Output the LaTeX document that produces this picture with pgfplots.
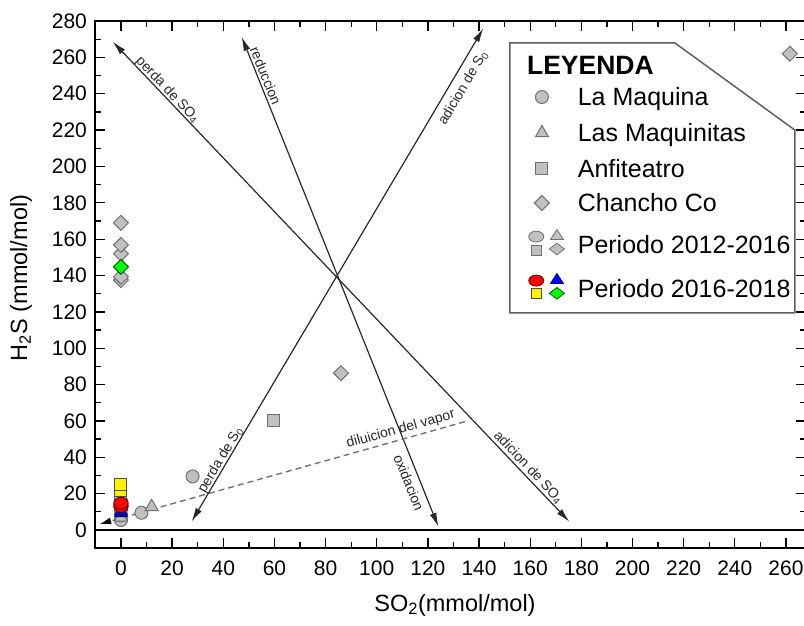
\documentclass[border=0pt]{standalone}
\usepackage{pgfplots}
\pgfplotsset{compat=1.18}
\usepackage{fontspec}
\setmainfont{Liberation Sans}
\usetikzlibrary{arrows.meta}
\definecolor{mfill}{RGB}{192,192,192}
\definecolor{medge}{RGB}{112,112,112}
\definecolor{arr}{RGB}{40,40,40}
\definecolor{frm}{RGB}{95,95,95}
\pgfplotsset{
  mk/.style={only marks, legend image code/.code={\draw[##1] plot coordinates {(0pt,0pt)};}},
  gry/.style={mark options={fill=mfill, draw=medge, line width=1pt}},
}
\begin{document}
\begin{tikzpicture}
\begin{axis}[
  at={(95.4pt,76.8pt)}, anchor=south west,
  scale only axis, width=711pt, height=527.2pt,
  xmin=-10, xmax=268, ymin=-10, ymax=280,
  xtick={0,20,...,260}, ytick={0,20,...,280},
  minor x tick num=1, minor y tick num=1,
  major tick length=10pt, minor tick length=6pt,
  every tick/.style={black, line width=1.3pt},
  axis line style={black, line width=2pt},
  tick label style={font=\fontsize{21}{21}\selectfont},
  xticklabel style={yshift=-9pt},
  yticklabel style={xshift=-5pt},
  /pgf/number format/assume math mode=true,
  xlabel={SO\textsubscript{2}(mmol/mol)},
  ylabel={H\textsubscript{2}S (mmol/mol)},
  label style={font=\fontsize{23.5}{23.5}\selectfont},
  xlabel style={at={(axis description cs:0.5058,-0.1077)}, anchor=center},
  ylabel style={at={(axis description cs:-0.1046,0.5125)}, anchor=center, rotate=0},
  legend cell align=left,
  legend style={at={(0.6089,0.8900)}, anchor=north west, draw=none, fill=none,
    inner xsep=0pt, inner ysep=0pt, outer sep=0pt, row sep=0pt, column sep=13pt,
    font=\fontsize{25}{25}\selectfont,
    nodes={inner sep=0pt, text height=27pt, text depth=9pt}},
]
% zero line
\addplot[black, line width=2pt, no marks, forget plot] coordinates {(-10,0)(268,0)};

% legend frame
\draw[frm, line width=1.5pt, fill=white] (axis cs:152.1,267.9) -- (axis cs:216.6,267.9) -- (axis cs:263.5,220) -- (axis cs:263.5,119.4) -- (axis cs:152.1,119.4) -- cycle;
\node[anchor=west, inner sep=0pt, font=\bfseries\fontsize{26.5}{26.5}\selectfont] at (axis cs:158.7,255.8) {LEYENDA};

% arrows
\addplot[arr, line width=1.2pt, no marks, forget plot, {Latex[length=14pt,width=7pt]}-{Latex[length=14pt,width=7pt]}] coordinates {(-3.2,268.6)(175.3,4.6)};
\addplot[arr, line width=1.2pt, no marks, forget plot, {Latex[length=14pt,width=7pt]}-{Latex[length=14pt,width=7pt]}] coordinates {(47.2,271.3)(124.1,1.8)};
\addplot[arr, line width=1.2pt, no marks, forget plot, {Latex[length=14pt,width=7pt]}-{Latex[length=14pt,width=7pt]}] coordinates {(27.6,4.6)(141.7,276)};
\addplot[draw=gray!90!black, line width=1.4pt, dash pattern=on 6pt off 4pt, no marks, forget plot, -{Latex[length=12pt,width=7pt,black]}] coordinates {(134.5,59.6)(-8.5,3.2)};

\begin{scope}[every node/.style={font=\fontsize{14}{14}\selectfont, text=arr, inner sep=0pt}]
\node[rotate=-46.4] at (axis cs:18.2,242) {perda de SO\textsubscript{4}};
\node[rotate=-68] at (axis cs:56.6,249.8) {reduccion};
\node[rotate=59.4] at (axis cs:133.8,243) {adicion de S\textsubscript{0}};
\node[rotate=59.4] at (axis cs:39.0,38.5) {perda de S\textsubscript{0}};
\node[rotate=-68] at (axis cs:112.6,26.1) {oxidacion};
\node[rotate=-46.4] at (axis cs:159.3,34.4) {adicion de SO\textsubscript{4}};
\node[rotate=15.6] at (axis cs:109.4,55.4) {diluicion del vapor};
\end{scope}

% 2012-2016 (grey)
\addplot[mk, mark=*, mark size=6.5pt, gry] coordinates {(0,5.5)(0,8)(0,11)(0,16)(8,9.5)(28,29.5)};
\addlegendentry{La Maquina}
\addplot[mk, mark=triangle*, mark size=7.5pt, gry] coordinates {(0,7)(0,13)(12,12.8)};
\addlegendentry{Las Maquinitas}
\addplot[mk, mark=square*, mark size=6pt, gry] coordinates {(0,17)(0,20)(59.5,60.5)};
\addlegendentry{Anfiteatro}
\addplot[mk, mark=square*, mark size=5.3pt, mark options={rotate=45, fill=mfill, draw=medge, line width=1pt}] coordinates {(0,137.5)(0,139.3)(0,152)(0,156.8)(0,169)(86,86.3)(261.5,262)};
\addlegendentry[text height=25pt, text depth=7pt]{Chancho Co}

\addlegendimage{legend image code/.code={
  \draw[fill=mfill, draw=medge, line width=0.8pt] (-5.7pt,8.4pt) ellipse (7.5pt and 5.5pt);
  \draw[fill=mfill, draw=medge, line width=0.8pt] (15pt,10pt)+(-6.5pt,-4.5pt) -- +(6.5pt,-4.5pt) -- +(0pt,5.5pt) -- cycle;
  \draw[fill=mfill, draw=medge, line width=0.8pt] (-5.7pt,-5pt)+(-5pt,-5pt) rectangle +(5pt,5pt);
  \draw[fill=mfill, draw=medge, line width=0.8pt] (15pt,-4pt)+(-7.5pt,0pt) -- +(0pt,5.8pt) -- +(7.5pt,0pt) -- +(0pt,-5.8pt) -- cycle;
}}
\addlegendentry[text height=35pt, text depth=17pt]{Periodo 2012-2016}
\addlegendimage{legend image code/.code={
  \draw[fill=red, draw=red!40!black, line width=0.8pt] (-5.7pt,8.4pt) ellipse (7.5pt and 5.5pt);
  \draw[fill=blue, draw=blue!40!black, line width=0.8pt] (15pt,10pt)+(-6.5pt,-4.5pt) -- +(6.5pt,-4.5pt) -- +(0pt,5.5pt) -- cycle;
  \draw[fill=yellow, draw=black!70, line width=0.8pt] (-5.7pt,-4.3pt)+(-5pt,-5pt) rectangle +(5pt,5pt);
  \draw[fill=green, draw=green!35!black, line width=0.8pt] (15pt,-4.3pt)+(-7.5pt,0pt) -- +(0pt,5.8pt) -- +(7.5pt,0pt) -- +(0pt,-5.8pt) -- cycle;
}}
\addlegendentry[text height=27pt, text depth=9pt]{Periodo 2016-2018}

% 2016-2018 (colour)
\addplot[only marks, forget plot, mark=square*, mark size=6pt, mark options={fill=yellow, draw=black!70, line width=1pt}] coordinates {(0,22)(0,25.3)};
\addplot[only marks, forget plot, mark=triangle*, mark size=7pt, mark options={fill=blue, draw=blue!40!black, line width=1pt}] coordinates {(0,9.3)(0,10.5)};
\addplot[only marks, forget plot, mark=*, mark size=6pt, mark options={xscale=1.2, fill=red, draw=red!40!black, line width=1pt}] coordinates {(0,13)(0,14.7)};
\addplot[only marks, forget plot, mark=square*, mark size=5.3pt, mark options={rotate=45, fill=green, draw=green!35!black, line width=1pt}] coordinates {(0,144.8)};
\end{axis}
\pgfresetboundingbox
\useasboundingbox (0pt,0pt) rectangle (804pt,625pt);
\end{tikzpicture}
\end{document}
